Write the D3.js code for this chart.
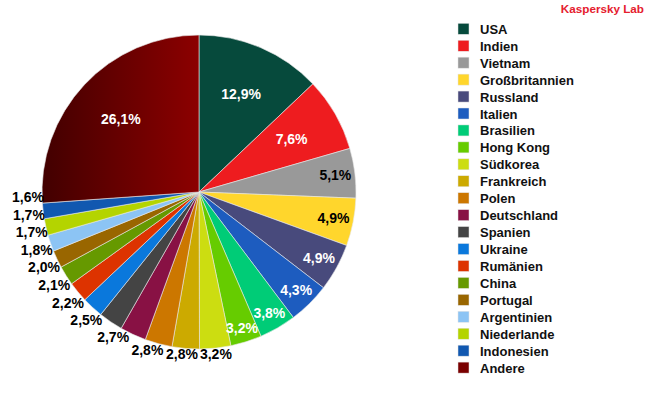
<!DOCTYPE html>
<html>
<head>
<meta charset="utf-8">
<script src="https://cdn.jsdelivr.net/npm/d3@7"></script>
<style>
  body { margin: 0; background: white; }
  svg text { font-family: "Liberation Sans", Arial, sans-serif; font-weight: bold; }
</style>
</head>
<body>
<main></main>
<script>
const countries = ["USA", "Indien", "Vietnam", "Großbritannien", "Russland", "Italien", "Brasilien",
    "Hong Kong", "Südkorea", "Frankreich", "Polen", "Deutschland", "Spanien", "Ukraine", "Rumänien",
    "China", "Portugal", "Argentinien", "Niederlande", "Indonesien", "Andere"]
const shares = [12.9, 7.6, 5.1, 4.9, 4.9, 4.3, 3.8, 3.2, 3.2, 2.8, 2.8, 2.7, 2.5, 2.2, 2.1,
    2.0, 1.8, 1.7, 1.7, 1.6, 26.1]
const colors = ["#064a3c", "#ee1c1f", "#999999", "#ffd62c", "#484a7c", "#1d5cbf", "#00cc77",
    "#66cc00", "#ccdd11", "#ccaa00", "#cc7700", "#881144", "#444444", "#0a78dc", "#dd3300",
    "#669900", "#996600", "#8cc4f4", "#b4d400", "#1158b0", "#7a0000"]

const svgWidth = 650
const svgHeight = 400
const cx = 199
const cy = 192
const radius = 157
const insideCount = 8   // first slices get their label inside

let data = countries.map((c, i) => ({ name: c, value: shares[i], color: colors[i] }))

let svg = d3.select("main")
    .append("svg")
    .attr("width", svgWidth)
    .attr("height", svgHeight)

/* gradient for the big "Andere" slice */
let defs = svg.append("defs")
let grad = defs.append("linearGradient")
    .attr("id", "andere")
    .attr("x1", "0%").attr("x2", "100%")
    .attr("y1", "0%").attr("y2", "0%")
grad.append("stop").attr("offset", "0%").attr("stop-color", "#420000")
grad.append("stop").attr("offset", "100%").attr("stop-color", "#8c0000")

svg.append("text")
    .attr("x", 644)
    .attr("y", 12.5)
    .attr("text-anchor", "end")
    .attr("fill", "#e5202e")
    .style("font-size", "11.7px")
    .text("Kaspersky Lab")

/* pie */

let pie = d3.pie()
    .sort(null)
    .value(d => d.value)

let arc = d3.arc()
    .innerRadius(0)
    .outerRadius(radius)

let arcs = pie(data)

let graph = svg.append("g")
    .attr("transform", `translate(${cx}, ${cy})`)

graph.selectAll("path")
    .data(arcs)
    .enter()
    .append("path")
    .attr("d", arc)
    .attr("fill", (d, i) => i == data.length - 1 ? "url(#andere)" : d.data.color)
    .attr("stroke", "#e8e8e8")
    .attr("stroke-width", 0.6)

/* labels */

let fmt = v => d3.format(".1f")(v).replace(".", ",") + "%"

let labels = graph.selectAll("text.lbl")
    .data(arcs)
    .enter()
    .append("text")
    .attr("class", "lbl")
    .attr("text-anchor", "middle")
    .attr("dy", "0.36em")
    .style("font-size", "14px")
    .text(d => fmt(d.data.value))

let placed = []
let boxH = 13
let gapH = 17
let padW = 2

labels.each(function (d, i) {
    let w = this.getComputedTextLength()
    let a = (d.startAngle + d.endAngle) / 2
    let inside = i < insideCount || i == data.length - 1
    let R
    if (inside) {
        if (d.data.value >= 7) {
            R = radius * 0.68
        } else {
            R = radius - 3 - (w / 2) * Math.abs(Math.sin(a)) - (boxH / 2) * Math.abs(Math.cos(a))
        }
    } else {
        let tries = 0
        let x, y
        while (true) {
            R = radius - 2 + (w / 2) * Math.abs(Math.sin(a)) + (boxH / 2) * Math.abs(Math.cos(a))
            x = R * Math.sin(a)
            y = -R * Math.cos(a)
            let hit = placed.some(p => Math.abs(p.x - x) < (p.w + w) / 2 + padW && Math.abs(p.y - y) < gapH)
            if (!hit || tries > 300) break
            a += 0.005
            tries++
        }
        placed.push({ x: x, y: y, w: w })
    }
    let x = R * Math.sin(a)
    let y = -R * Math.cos(a)
    let lum = d3.hsl(d.data.color).l
    d3.select(this)
        .attr("x", x)
        .attr("y", y)
        .attr("fill", inside && lum < 0.55 ? "white" : "black")
})

/* legend */

let legend = svg.append("g")
    .attr("transform", "translate(458, 23.3)")

let rows = legend.selectAll("g")
    .data(data)
    .enter()
    .append("g")
    .attr("transform", (d, i) => `translate(0, ${i * 16.94})`)

rows.append("rect")
    .attr("width", 11)
    .attr("height", 11)
    .attr("fill", d => d.color)
    .attr("stroke", "#e4e4e4")
    .attr("stroke-width", 0.5)

rows.append("text")
    .attr("x", 22)
    .attr("y", 10.5)
    .attr("fill", "#111")
    .style("font-size", "13px")
    .text(d => d.name)
</script>
</body>
</html>
